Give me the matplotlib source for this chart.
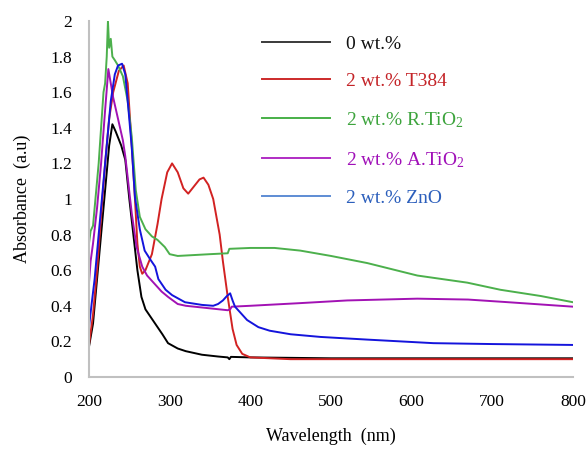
"""
UV-Vis absorbance spectra of the nanocomposite films.
Values read off the published figure.
"""

import matplotlib
matplotlib.use("Agg")
import matplotlib.pyplot as plt
from matplotlib.lines import Line2D

plt.rcParams["font.family"] = ["Liberation Serif", "DejaVu Serif"]
plt.rcParams["mathtext.fontset"] = "custom"
plt.rcParams["mathtext.rm"] = "Liberation Serif"
plt.rcParams["mathtext.it"] = "Liberation Serif:italic"

# 0 wt.%
wl_neat = [200, 205, 210, 215, 220, 225, 229, 233, 240, 245, 250, 255, 260, 265, 270,
           279, 285, 291, 298, 310, 320, 340, 360, 372, 374, 376, 400, 500, 600, 800]
abs_neat = [0.17, 0.30, 0.55, 0.80, 1.05, 1.30, 1.42, 1.38, 1.30, 1.22, 1.00, 0.80, 0.60,
            0.45, 0.38, 0.32, 0.28, 0.24, 0.19, 0.16, 0.145, 0.125, 0.115, 0.11, 0.10,
            0.113, 0.11, 0.105, 0.105, 0.105]

# 2 wt.% T384
wl_t384 = [200, 205, 210, 215, 220, 225, 230, 237, 243, 248, 253, 257, 260, 263, 266,
           270, 278, 285, 290, 297, 303, 310, 317, 323, 330, 337, 342, 348, 354, 358,
           362, 366, 372, 378, 383, 390, 400, 450, 800]
abs_t384 = [0.18, 0.35, 0.60, 0.90, 1.20, 1.45, 1.60, 1.72, 1.75, 1.65, 1.30, 1.00, 0.75,
            0.62, 0.58, 0.60, 0.69, 0.86, 1.00, 1.15, 1.20, 1.15, 1.06, 1.03, 1.07, 1.11,
            1.12, 1.08, 1.00, 0.90, 0.80, 0.65, 0.45, 0.27, 0.18, 0.13, 0.11, 0.10, 0.10]

# 2 wt.% R.TiO2
wl_rtio2 = [200, 202, 205, 208, 212, 215, 218, 220, 222, 223.5, 225, 227, 229, 232, 236,
            242, 248, 253, 258, 263, 270, 278, 285, 294, 300, 310, 330, 350, 372, 374,
            400, 430, 462, 500, 545, 607, 669, 710, 760, 800]
abs_rtio2 = [0.75, 0.82, 0.85, 1.00, 1.20, 1.40, 1.60, 1.65, 1.80, 2.00, 1.85, 1.90, 1.80,
             1.78, 1.75, 1.69, 1.55, 1.35, 1.05, 0.90, 0.83, 0.79, 0.77, 0.73, 0.69, 0.68,
             0.685, 0.69, 0.695, 0.72, 0.725, 0.725, 0.71, 0.68, 0.64, 0.57, 0.53, 0.49,
             0.455, 0.42]

# 2 wt.% A.TiO2
wl_atio2 = [200, 202, 205, 210, 215, 220, 224, 227, 230, 236, 242, 245, 253, 259, 266,
            272, 282, 290, 298, 310, 320, 341, 372, 375, 377, 400, 462, 520, 607, 670,
            720, 800]
abs_atio2 = [0.53, 0.65, 0.75, 0.95, 1.20, 1.50, 1.73, 1.65, 1.57, 1.45, 1.33, 1.24, 0.92,
             0.73, 0.62, 0.57, 0.52, 0.48, 0.45, 0.41, 0.40, 0.39, 0.375, 0.38, 0.395,
             0.40, 0.415, 0.43, 0.44, 0.435, 0.42, 0.395]

# 2 wt.% ZnO
wl_zno = [200, 203, 207, 212, 217, 222, 227, 232, 236, 241, 245, 249, 253, 257, 263, 269,
          276, 282, 286, 295, 303, 319, 340, 354, 360, 366, 371, 375, 378, 381, 388, 396,
          410, 424, 450, 487, 545, 627, 700, 800]
abs_zno = [0.28, 0.40, 0.55, 0.80, 1.05, 1.30, 1.55, 1.70, 1.75, 1.76, 1.70, 1.50, 1.29,
           1.01, 0.83, 0.71, 0.66, 0.62, 0.55, 0.49, 0.46, 0.42, 0.405, 0.40, 0.41, 0.43,
           0.455, 0.47, 0.43, 0.395, 0.36, 0.32, 0.28, 0.26, 0.24, 0.225, 0.21, 0.19,
           0.185, 0.18]

labels = ["0 wt.%", "2 wt.% T384", "2 wt.% R.TiO$_2$", "2 wt.% A.TiO$_2$", "2 wt.% ZnO"]
line_colors = ["#000000", "#d22222", "#4cb04c", "#a212b4", "#1414dc"]
handle_colors = ["#3a3a3a", "#cc2a2a", "#48b048", "#b02cc4", "#5d8cd4"]
text_colors = ["#111111", "#c42428", "#3da43d", "#a010b8", "#2c5fbc"]

series = [(wl_neat, abs_neat), (wl_t384, abs_t384), (wl_rtio2, abs_rtio2),
          (wl_atio2, abs_atio2), (wl_zno, abs_zno)]

fig = plt.figure(figsize=(5.87, 4.49), dpi=100)
ax = fig.add_axes([0.1516, 0.1604, 0.8245, 0.7928])

for (x, y), c in zip(series, line_colors):
    ax.plot(x, y, color=c, linewidth=1.4)

ax.set_xlim(200, 800)
ax.set_ylim(0, 2)
ax.set_xticks([200, 300, 400, 500, 600, 700, 800])
ax.set_yticks([0, 0.2, 0.4, 0.6, 0.8, 1, 1.2, 1.4, 1.6, 1.8, 2])
ax.set_yticklabels(["0", "0.2", "0.4", "0.6", "0.8", "1", "1.2", "1.4", "1.6", "1.8", "2"])
ax.tick_params(length=0, labelsize=12.5)
ax.tick_params(axis="x", pad=12)
ax.tick_params(axis="y", pad=12)

for side in ["top", "right"]:
    ax.spines[side].set_visible(False)
for side in ["left", "bottom"]:
    ax.spines[side].set_color("#c0c0c0")
    ax.spines[side].set_linewidth(1.5)

ax.set_xlabel("Wavelength  (nm)", fontsize=13, labelpad=13)
ax.set_ylabel("Absorbance  (a.u)", fontsize=13, labelpad=14)

handles = [Line2D([], [], color=c, linewidth=1.4) for c in handle_colors]
leg = ax.legend(handles, labels, loc="upper left", bbox_to_anchor=(0.322, 1.01),
                frameon=False, fontsize=14, handlelength=3.5, handletextpad=0.82,
                labelspacing=1.03)
for t, c in zip(leg.get_texts(), text_colors):
    t.set_color(c)

plt.savefig("out.png", dpi=100)
